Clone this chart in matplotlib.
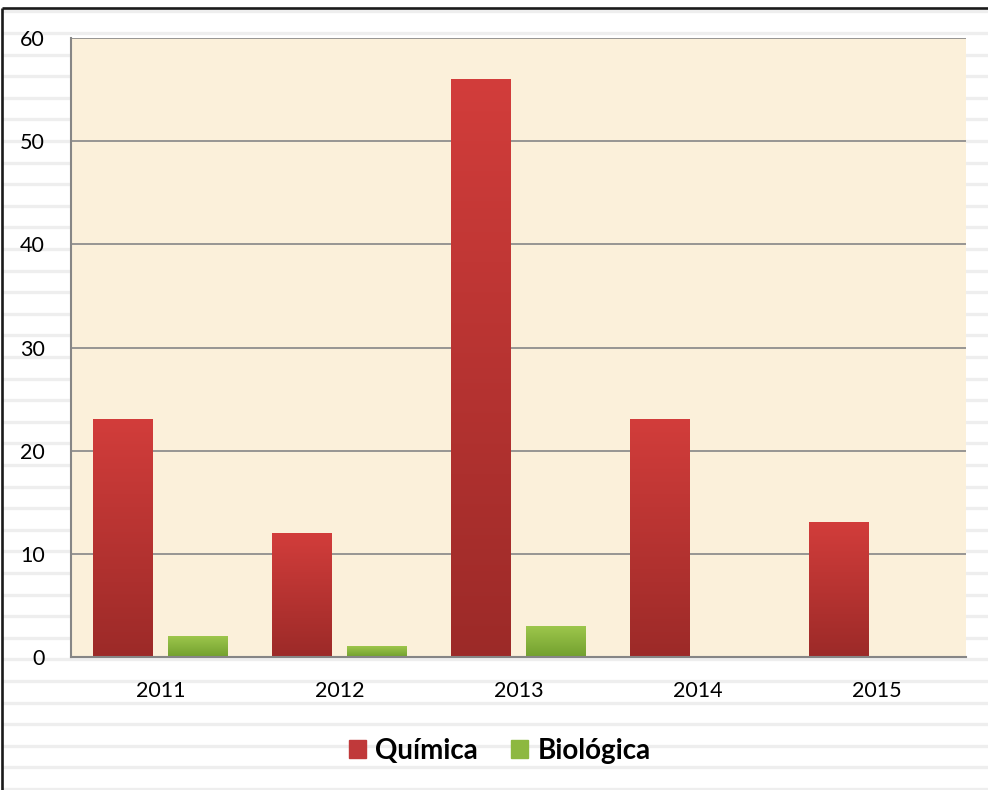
import numpy as np
import matplotlib
matplotlib.use("Agg")
from matplotlib import pyplot as plt
from matplotlib.colors import LinearSegmentedColormap
from matplotlib.patches import Patch

# Data
years = ["2011", "2012", "2013", "2014", "2015"]
quimica = [23, 12, 56, 23, 13]
biologica = [2, 1, 3, 0, 0]

plt.rcParams['font.family'] = ['Lato', 'DejaVu Sans']

fig = plt.figure(figsize=(9.88, 7.90), dpi=100)

# lined-paper background
bg = fig.add_axes([0, 0, 1, 1], zorder=-1)
bg.set_xlim(0, 988)
bg.set_ylim(790, 0)
bg.axis('off')
for y in np.arange(11.4, 795, 21.6):
    bg.axhline(y, xmin=3 / 988, color='#eeeeee', lw=2.4)
bg.plot([2, 2], [8, 790], color='#1a1a1a', lw=1.9, solid_capstyle='butt')
bg.plot([2, 988], [8, 8], color='#1a1a1a', lw=1.9, solid_capstyle='butt')

ax = fig.add_axes([71 / 988, 1 - 657 / 790, 895 / 988, 619 / 790], zorder=1)
ax.set_facecolor('#fbf0da')

x = np.arange(len(years))
w = 0.335
off = 0.21

red_cmap = LinearSegmentedColormap.from_list('r', ['#9c2a28', '#d23d3b'])
green_cmap = LinearSegmentedColormap.from_list('g', ['#72a02e', '#9dc64c'])
grad = np.linspace(0, 1, 256).reshape(-1, 1)

bars_q = ax.bar(x - off, quimica, w, color='#c0393a', zorder=3)
bars_b = ax.bar(x + off, biologica, w, color='#8db840', zorder=3)
for bars, cmap in [(bars_q, red_cmap), (bars_b, green_cmap)]:
    for b in bars:
        h = b.get_height()
        if h <= 0:
            continue
        x0 = b.get_x()
        ax.imshow(grad, cmap=cmap, extent=(x0, x0 + b.get_width(), 0, h),
                  aspect='auto', origin='lower', zorder=4)

ax.set_xlim(-0.5, len(years) - 0.5)
ax.set_ylim(0, 60)
ax.set_yticks(range(0, 61, 10))
ax.set_xticks(x)
ax.set_xticklabels(years)
ax.yaxis.grid(True, color='#868686', lw=1.2)
ax.set_axisbelow(True)
ax.tick_params(axis='both', length=0, labelsize=15.5, colors='black')
ax.tick_params(axis='y', pad=19)
ax.tick_params(axis='x', pad=17)
for s in ['right', 'top']:
    ax.spines[s].set_visible(False)
for s in ['left', 'bottom']:
    ax.spines[s].set_color('#868686')
    ax.spines[s].set_linewidth(1.5)
ax.spines['bottom'].set_zorder(5)

handles = [Patch(color='#c0393a'), Patch(color='#8db840')]
fig.legend(handles, ['Química', 'Biológica'], loc='center',
           bbox_to_anchor=(500 / 988, 1 - 751 / 790), ncol=2, frameon=False,
           prop={'weight': 'bold', 'size': 20}, handlelength=0.6,
           handleheight=0.6, handletextpad=0.35, columnspacing=1.2)

plt.savefig('out.png', dpi=100)
